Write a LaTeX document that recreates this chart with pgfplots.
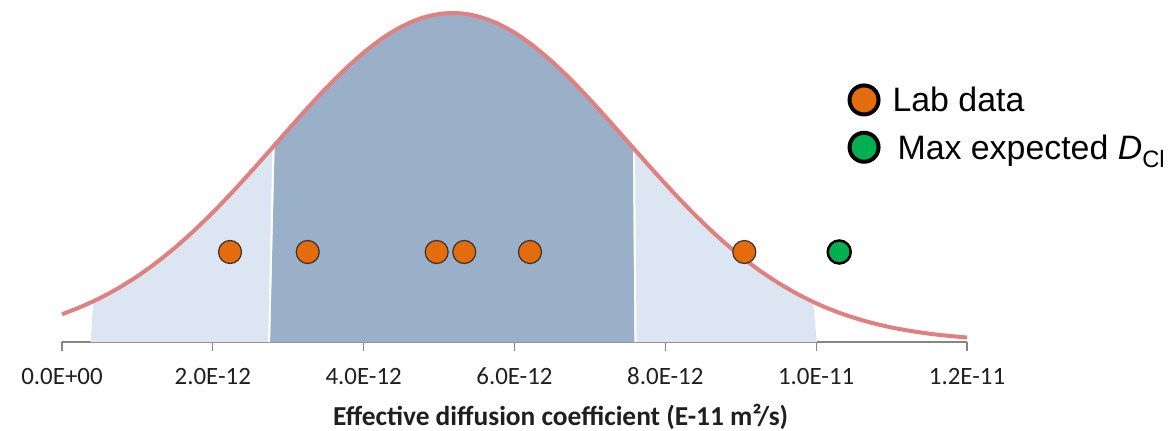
\documentclass[border=0pt]{standalone}
\usepackage{fontspec}
\setmainfont{Carlito}
\newfontfamily\legfont{Liberation Sans}
\usepackage{pgfplots}
\pgfplotsset{compat=1.18}
\definecolor{curvered}{RGB}{224,128,128}
\definecolor{lightfill}{RGB}{220,230,242}
\definecolor{darkfill}{RGB}{154,175,200}
\definecolor{laborange}{RGB}{228,108,10}
\definecolor{maxgreen}{RGB}{0,176,80}
\definecolor{axisgray}{RGB}{134,134,134}
\begin{document}
\begin{tikzpicture}
\useasboundingbox (0,0) rectangle (1173bp,431bp);
\clip (0,0) rectangle (1173bp,431bp);
\begin{axis}[
  at={(62bp,89bp)}, anchor=south west,
  scale only axis, width=905bp, height=342bp,
  xmin=0, xmax=12, ymin=0, ymax=342,
  axis x line=bottom, axis y line=none,
  axis line style={axisgray, line width=1.3bp, -},
  xtick={0,2,4,6,8,10,12},
  xticklabels={0.0E+00,2.0E-12,4.0E-12,6.0E-12,8.0E-12,1.0E-11,1.2E-11},
  tick align=outside, major tick length=9bp,
  tick style={axisgray, line width=1.3bp},
  xticklabel style={font=\fontsize{25}{29}\selectfont, text=black!88, anchor=base, yshift=-33bp},
  xlabel={Effective diffusion coefficient (E-11 m²/s)},
  xlabel style={font=\fontsize{27.5}{32}\selectfont\bfseries, text=black!88,
    at={(axis description cs:0.551,0)}, anchor=base, yshift=-83bp},
  clip=false,
  legend cell align=left,
  legend style={draw=none, fill=none, inner sep=0pt, outer sep=0pt,
    at={(axis description cs:0.868,0.756)}, anchor=north west,
    font=\legfont\fontsize{34}{40}\selectfont,
    nodes={inner sep=0pt, text height=24bp, text depth=7bp},
    row sep=12bp,
    /tikz/every odd column/.style={column sep=12bp}},
]
% outer band (light)
\addplot[fill=lightfill, draw=none, forget plot] coordinates {
 (0.38,0) (0.415,40.8) (0.5,43.8) (0.75,54.0) (1.0,65.8) (1.25,79.3) (1.5,94.5)
 (1.75,111.3) (2.0,129.6) (2.25,149.2) (2.5,169.8) (2.75,191.0) (3.0,212.4)
 (3.25,233.5) (3.5,253.7) (3.75,272.5) (4.0,289.4) (4.25,303.8) (4.5,315.3)
 (4.75,323.5) (5.0,328.0) (5.18,329.0) (5.25,328.9) (5.5,325.9) (5.75,319.3)
 (6.0,309.3) (6.25,296.1) (6.5,280.2) (6.75,262.2) (7.0,242.5) (7.25,221.7)
 (7.5,200.4) (7.75,179.1) (8.0,158.2) (8.25,138.1) (8.5,119.2) (8.75,101.7)
 (9.0,85.8) (9.25,71.5) (9.5,59.0) (9.75,48.1) (9.96,39.8) (10.01,0)
} --cycle;
% inner band (dark)
\addplot[fill=darkfill, draw=none, forget plot] coordinates {
 (2.76,0) (2.82,197.0) (3.0,212.4) (3.25,233.5) (3.5,253.7) (3.75,272.5)
 (4.0,289.4) (4.25,303.8) (4.5,315.3) (4.75,323.5) (5.0,328.0) (5.18,329.0)
 (5.25,328.9) (5.5,325.9) (5.75,319.3) (6.0,309.3) (6.25,296.1) (6.5,280.2)
 (6.75,262.2) (7.0,242.5) (7.25,221.7) (7.5,200.4) (7.57,194.5) (7.59,0)
} --cycle;
% white seams between the bands
\addplot[white, line width=2bp, forget plot] coordinates {(2.745,0) (2.805,197.0)};
\addplot[white, line width=2bp, forget plot] coordinates {(7.605,0) (7.585,194.5)};
% fitted distribution curve
\addplot[curvered, line width=4bp, smooth, forget plot] coordinates {
 (0,27.8) (0.25,35.1) (0.5,43.8) (0.75,54.0) (1.0,65.8) (1.25,79.3) (1.5,94.5)
 (1.75,111.3) (2.0,129.6) (2.25,149.2) (2.5,169.8) (2.75,191.0) (3.0,212.4)
 (3.25,233.5) (3.5,253.7) (3.75,272.5) (4.0,289.4) (4.25,303.8) (4.5,315.3)
 (4.75,323.5) (5.0,328.0) (5.25,328.9) (5.5,325.9) (5.75,319.3)
 (6.0,309.3) (6.25,296.1) (6.5,280.2) (6.75,262.2) (7.0,242.5) (7.25,221.7)
 (7.5,200.4) (7.75,179.1) (8.0,158.2) (8.25,138.1) (8.5,119.2) (8.75,101.7)
 (9.0,85.8) (9.25,71.5) (9.5,59.0) (9.75,48.1) (10.0,38.7) (10.25,30.8)
 (10.5,24.3) (10.75,18.9) (11.0,14.5) (11.25,11.1) (11.5,8.3) (11.75,6.2) (12.0,4.5)
};
% lab measurements
\addplot[only marks, mark=*, mark size=11.5bp,
  mark options={fill=laborange, draw=black!80, line width=1.2bp},
  legend image code/.code={\draw[fill=laborange, draw=black, line width=4bp] (14.5bp,3.3bp) circle (14.5bp);}]
  coordinates {(2.228,90) (3.258,90) (4.968,90) (5.334,90) (6.205,90) (9.047,90)};
\addlegendentry{Lab data}
% maximum expected value
\addplot[only marks, mark=*, mark size=11.5bp,
  mark options={fill=maxgreen, draw=black, line width=2.5bp},
  legend image code/.code={\draw[fill=maxgreen, draw=black, line width=4bp] (14.5bp,3.3bp) circle (14.5bp);}]
  coordinates {(10.306,90)};
\addlegendentry{\hspace{5bp}Max expected {\itshape D}\textsubscript{Cl}}
\end{axis}
\end{tikzpicture}
\end{document}
